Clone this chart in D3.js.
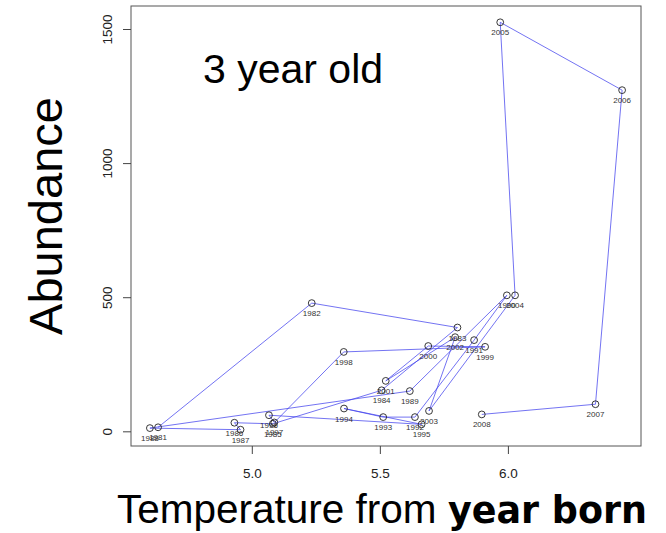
<!DOCTYPE html>
<html>
<head>
<meta charset="utf-8">
<script src="https://cdn.jsdelivr.net/npm/d3@7"></script>
<style>
  body { margin: 0; background: #fff; }
  text { font-family: "Liberation Sans", Arial, sans-serif; }
</style>
</head>
<body>
<div id="chart"></div>
<script>
// year-born series, plotted in order
const years = [1981, 1982, 1983, 1984, 1985, 1986, 1987, 1988, 1989, 1990,
  1991, 1992, 1993, 1994, 1995, 1996, 1997, 1998, 1999, 2000,
  2001, 2002, 2003, 2004, 2005, 2006, 2007, 2008];
const temperature = [4.634, 5.234, 5.803, 5.507, 5.082, 4.932, 4.956, 4.602, 5.617, 5.996,
  5.868, 5.637, 5.513, 5.360, 5.663, 5.067, 5.088, 5.359, 5.911, 5.689,
  5.523, 5.794, 5.692, 6.028, 5.970, 6.446, 6.342, 5.898];
const abundance = [15, 478, 387, 153, 28, 32, 6, 12, 150, 507,
  340, 53, 53, 85, 26, 60, 33, 296, 315, 318,
  188, 351, 76, 507, 1525, 1272, 101, 63];
const xTicks = [5.0, 5.5, 6.0];
const yTicks = [0, 500, 1000, 1500];

const W = 666, H = 533;
const box = { left: 131, right: 641, top: 6, bottom: 446 };

const data = years.map((y, i) => ({ year: y, t: temperature[i], a: abundance[i] }));

// R style 4% padding on both axes
function padded(ext) {
  const p = (ext[1] - ext[0]) * 0.04;
  return [ext[0] - p, ext[1] + p];
}

const x = d3.scaleLinear()
  .domain(padded(d3.extent(temperature)))
  .range([box.left, box.right]);
const y = d3.scaleLinear()
  .domain(padded(d3.extent(abundance)))
  .range([box.bottom, box.top]);

const svg = d3.select("#chart").append("svg")
  .attr("width", W).attr("height", H);

// plot box
svg.append("rect")
  .attr("x", box.left).attr("y", box.top)
  .attr("width", box.right - box.left).attr("height", box.bottom - box.top)
  .attr("fill", "none").attr("stroke", "#555").attr("stroke-width", 1);

// x axis
const gx = svg.append("g").attr("transform", `translate(0,${box.bottom})`)
  .call(d3.axisBottom(x).tickValues(xTicks).tickFormat(d3.format(".1f")).tickSize(8).tickPadding(14));
gx.select(".domain").remove();
gx.selectAll("line").attr("stroke", "#444");
gx.selectAll("text").attr("font-size", 13.5).attr("fill", "#222")
  .style("font-family", "Liberation Sans, Arial, sans-serif");

// y axis
const gy = svg.append("g").attr("transform", `translate(${box.left},0)`)
  .call(d3.axisLeft(y).tickValues(yTicks).tickSize(8).tickPadding(0));
gy.select(".domain").remove();
gy.selectAll("line").attr("stroke", "#444");
gy.selectAll("text").remove();
gy.selectAll(".tick").append("text")
  .attr("transform", "translate(-19,0) rotate(-90)")
  .attr("text-anchor", "middle")
  .attr("font-size", 13.5).attr("fill", "#222")
  .text(d => d);

// connecting path in year order
const line = d3.line().x(d => x(d.t)).y(d => y(d.a));
svg.append("path")
  .datum(data)
  .attr("d", line)
  .attr("fill", "none")
  .attr("stroke", "#4444ee")
  .attr("stroke-width", 0.75);

// points
svg.append("g").selectAll("circle")
  .data(data)
  .enter().append("circle")
  .attr("cx", d => x(d.t))
  .attr("cy", d => y(d.a))
  .attr("r", 3.4)
  .attr("fill", "none")
  .attr("stroke", "#222")
  .attr("stroke-width", 0.9);

// year labels under points
svg.append("g").selectAll("text")
  .data(data)
  .enter().append("text")
  .attr("x", d => x(d.t))
  .attr("y", d => y(d.a) + 13)
  .attr("text-anchor", "middle")
  .attr("font-size", 8)
  .attr("fill", "#333")
  .text(d => d.year);

// titles
svg.append("text")
  .attr("x", 203).attr("y", 83)
  .attr("font-size", 41)
  .attr("fill", "#000")
  .text("3 year old");

svg.append("text")
  .attr("transform", `translate(62,${(box.top + box.bottom) / 2 - 10}) rotate(-90)`)
  .attr("text-anchor", "middle")
  .attr("font-size", 47)
  .attr("fill", "#000")
  .text("Abundance");

const xl = svg.append("text")
  .attr("x", 117).attr("y", 523)
  .attr("font-size", 40.5)
  .attr("fill", "#000");
xl.append("tspan").text("Temperature from ");
xl.append("tspan")
  .style("font-family", "DejaVu Sans, sans-serif")
  .attr("font-weight", "bold")
  .attr("font-size", 36.5)
  .text("year born");
</script>
</body>
</html>
